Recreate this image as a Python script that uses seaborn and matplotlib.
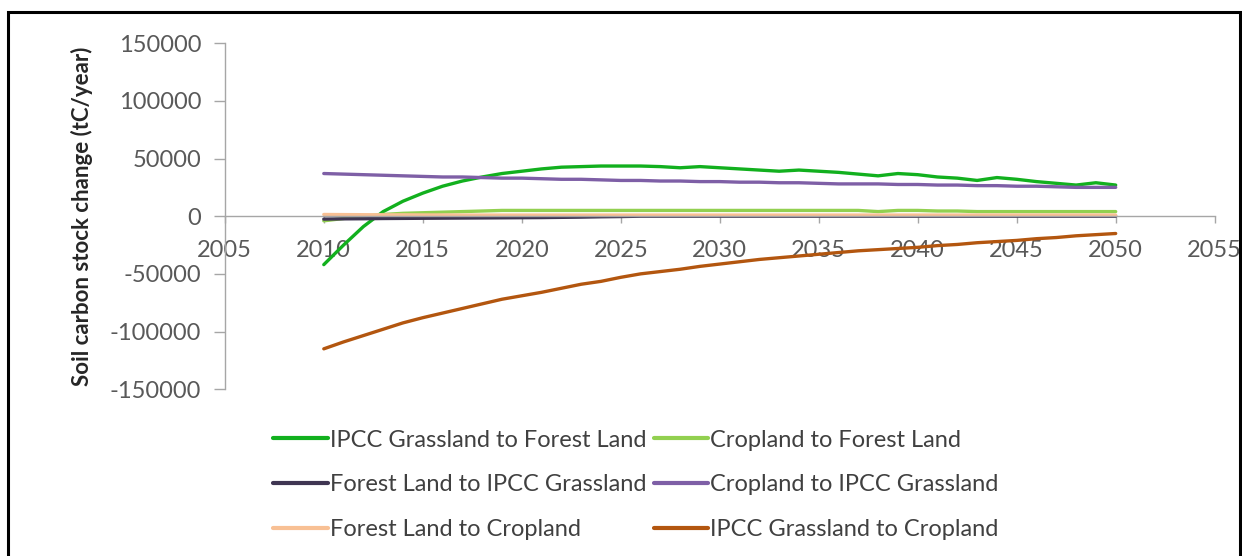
import numpy as np
import pandas as pd
import matplotlib
matplotlib.use("Agg")
import matplotlib.pyplot as plt
import seaborn as sns
from matplotlib.patches import Rectangle

# -------------------------------
# Data
# -------------------------------
years = list(range(2010, 2051))

grass_to_forest = [-42000, -25000, -9000, 4000, 13000, 20000, 26000, 30500, 34000, 37000,
                   39000, 41000, 42500, 43000, 43500, 43500, 43500, 43000, 42000, 43000,
                   42000, 41000, 40000, 39000, 40000, 39000, 38000, 36500, 35000, 37000,
                   36000, 34000, 33000, 31000, 33500, 32000, 30000, 28500, 27000, 29000,
                   27000]
crop_to_forest = [-4000, -2000, 0, 1500, 2500, 3000, 3500, 4000, 4500, 5000,
                  5000, 5000, 5000, 5000, 5000, 5000, 5000, 5000, 5000, 5000,
                  5000, 5000, 5000, 5000, 5000, 5000, 5000, 5000, 4000, 5000,
                  5000, 4500, 4500, 4000, 4000, 4000, 4000, 4000, 4000, 4000,
                  4000]
forest_to_grass = [-2500, -2300, -2200, -2000, -1900, -1800, -1700, -1600, -1500, -1400,
                   -1300, -1200, -1000, -800, -500, -300, 0, 0, 0, 0,
                   0, 0, 0, 0, 0, 0, 0, 0, 0, 0,
                   0, 0, 0, 0, 0, 0, 0, 0, 0, 0,
                   0]
crop_to_grass = [37000, 36500, 36000, 35500, 35000, 34500, 34000, 34000, 33500, 33000,
                 33000, 32500, 32000, 32000, 31500, 31000, 31000, 30500, 30500, 30000,
                 30000, 29500, 29500, 29000, 29000, 28500, 28000, 28000, 28000, 27500,
                 27500, 27000, 27000, 26500, 26500, 26000, 26000, 25500, 25000, 25000,
                 25000]
forest_to_crop = [1500, 1400, 1300, 1200, 1200, 1100, 1100, 1000, 1000, 1000,
                  1000, 1000, 1000, 1000, 1000, 1000, 1000, 1000, 1000, 1000,
                  1000, 1000, 1000, 1000, 1000, 1000, 1000, 1000, 1000, 1000,
                  1000, 1000, 1000, 1000, 1000, 1000, 1000, 1000, 1000, 1000,
                  1000]
grass_to_crop = [-115000, -109000, -103500, -98000, -92500, -88000, -84000, -80000, -76000, -72000,
                 -69000, -66000, -62500, -59000, -56500, -53000, -50000, -48000, -46000, -43500,
                 -41500, -39500, -37500, -36000, -34500, -33000, -31500, -30000, -29000, -28000,
                 -27000, -25500, -24500, -23000, -22000, -21000, -19500, -18500, -17000, -16000,
                 -15000]

series_names = ["IPCC Grassland to Forest Land", "Cropland to Forest Land",
                "Forest Land to IPCC Grassland", "Cropland to IPCC Grassland",
                "Forest Land to Cropland", "IPCC Grassland to Cropland"]
series_values = [grass_to_forest, crop_to_forest, forest_to_grass,
                 crop_to_grass, forest_to_crop, grass_to_crop]
colores = ["#12B01E", "#92D050", "#3F3552", "#7E5FA6", "#F8C094", "#B3560F"]

yticks = [-150000, -100000, -50000, 0, 50000, 100000, 150000]
xticks = [2005, 2010, 2015, 2020, 2025, 2030, 2035, 2040, 2045, 2050, 2055]

df = pd.DataFrame({
    "Year": years * len(series_names),
    "Series": [n for n in series_names for _ in years],
    "Value": [v for vals in series_values for v in vals],
})

# -------------------------------
# Plot
# -------------------------------
sns.set_style("white")
plt.rcParams['font.family'] = ['Lato', 'DejaVu Sans']

fig = plt.figure(figsize=(12.42, 5.56), dpi=100)
ax = fig.add_axes([0.181, 0.300, 0.797, 0.6223])

sns.lineplot(data=df, x="Year", y="Value", hue="Series", hue_order=series_names,
             palette=dict(zip(series_names, colores)), linewidth=2.4, ax=ax, legend=True)

ax.set_xlim(2005, 2055)
ax.set_ylim(-150000, 150000)
ax.set_xticks(xticks)
ax.set_yticks(yticks)
ax.set_xticklabels([str(x) for x in xticks])
ax.set_yticklabels([str(y) for y in yticks])

ax.spines['top'].set_visible(False)
ax.spines['right'].set_visible(False)
ax.spines['bottom'].set_position(('data', 0))
for s in ['left', 'bottom']:
    ax.spines[s].set_color('#A6A6A6')
    ax.spines[s].set_linewidth(1.0)

ax.tick_params(axis='x', bottom=True, direction='out', length=5, width=1, color='#A6A6A6',
               pad=12, labelsize=17, labelcolor='#595959')
ax.tick_params(axis='y', left=True, direction='out', length=8, width=1, color='#A6A6A6',
               pad=9, labelsize=17, labelcolor='#595959')
ax.set_xlabel("")
ax.set_ylabel("Soil carbon stock change (tC/year)", fontsize=16, fontweight='bold',
              color='#262626', labelpad=12)
ax.grid(False)

# leyenda en dos columnas, ordenada por filas
handles, labels = ax.get_legend_handles_labels()
orden = [0, 2, 4, 1, 3, 5]
leg = ax.legend([handles[i] for i in orden], [labels[i] for i in orden],
                ncol=2, frameon=False, fontsize=17, loc='center',
                bbox_to_anchor=(0.512, 0.128), bbox_transform=fig.transFigure,
                handlelength=2.3, handletextpad=0.1, columnspacing=0.3,
                labelspacing=1.0, borderaxespad=0)
for t in leg.get_texts():
    t.set_color('#404040')
for h in leg.get_lines():
    h.set_linewidth(3)

# marco negro alrededor de la figura
fig.patches.append(Rectangle((8 / 1242, -0.1), 1232 / 1242, 1.1 - 12 / 556,
                             transform=fig.transFigure, fill=False,
                             edgecolor='black', linewidth=2.2))

fig.savefig("out.png", dpi=100)
